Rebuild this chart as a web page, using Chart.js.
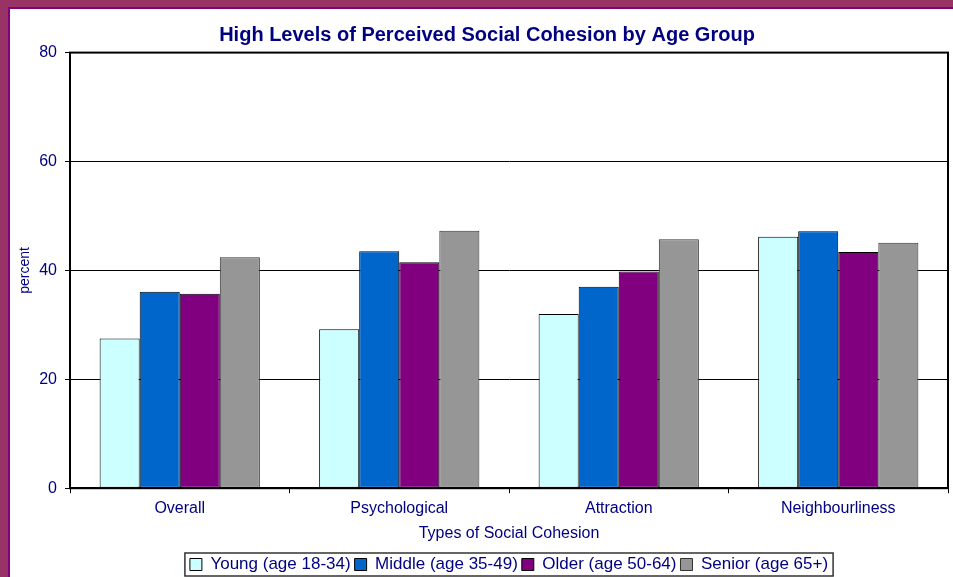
<!DOCTYPE html>
<html>
<head>
<meta charset="utf-8">
<script src="https://cdn.jsdelivr.net/npm/chart.js@4.4.0/dist/chart.umd.min.js"></script>
<style>
    html, body { margin: 0; padding: 0; }
    body { width: 953px; height: 577px; background: #993366; overflow: hidden; position: relative; }
    #frame { position: absolute; left: 8px; top: 7px; width: 945px; height: 570px; border-left: 2px solid #800080; border-top: 2px solid #800080; background: #fff; box-sizing: border-box; }
    #wrap { width: 943px; height: 568px; }
</style>
</head>
<body>
<div id="frame"><div id="wrap"><canvas id="chart"></canvas></div></div>
<script>
"use strict";

const categories = ["Overall", "Psychological", "Attraction", "Neighbourliness"];
const seriesNames = ["Young (age 18-34)", "Middle (age 35-49)", "Older (age 50-64)", "Senior (age 65+)"];
const young = [27.5, 29.2, 32.0, 46.2];
const middle = [36.1, 43.5, 37.0, 47.2];
const older = [35.7, 41.5, 39.8, 43.4];
const senior = [42.4, 47.3, 45.7, 45.1];
const yTicks = [0, 20, 40, 60, 80];

const colors = ["#ccffff", "#0066cc", "#800080", "#969696"];
const navy = "#000080";
const fontFamily = "'Liberation Sans', Arial, sans-serif";

// thick black box round the plot area
const frameBorder = {
    id: "frameBorder",
    afterDatasetsDraw(chart) {
        const { ctx, chartArea: a } = chart;
        ctx.save();
        ctx.strokeStyle = "#000";
        ctx.lineWidth = 2;
        ctx.strokeRect(a.left, a.top, a.right - a.left, a.bottom - a.top);
        ctx.restore();
    }
};

// thin box round the legend items
const legendBox = {
    id: "legendBox",
    afterDraw(chart) {
        const boxes = chart.legend.legendHitBoxes;
        if (!boxes || !boxes.length) return;
        const left = Math.min(...boxes.map((b) => b.left)) - 5;
        const right = Math.max(...boxes.map((b) => b.left + b.width)) + 5;
        const top = Math.min(...boxes.map((b) => b.top)) - 3;
        const bottom = Math.max(...boxes.map((b) => b.top + b.height)) + 3;
        const ctx = chart.ctx;
        ctx.save();
        ctx.strokeStyle = "#333";
        ctx.lineWidth = 1.5;
        ctx.strokeRect(left, top, right - left, bottom - top);
        ctx.restore();
    }
};

new Chart(document.getElementById("chart").getContext("2d"), {
    type: "bar",
    data: {
        labels: categories,
        datasets: [young, middle, older, senior].map((d, i) => ({
            label: seriesNames[i],
            data: d,
            backgroundColor: colors[i],
            borderColor: i === 3 ? "#333" : "#000",
            borderWidth: 1,
            borderSkipped: false,
            barPercentage: 1,
            categoryPercentage: 0.73
        }))
    },
    options: {
        responsive: true,
        maintainAspectRatio: false,
        animation: false,
        layout: { padding: { left: 16, right: 5, top: 0, bottom: -6 } },
        plugins: {
            title: {
                display: true,
                text: "High Levels of Perceived Social Cohesion by Age Group",
                color: navy,
                font: { family: fontFamily, size: 20, weight: "bold" },
                padding: { top: 14, bottom: 5.6 }
            },
            legend: {
                position: "bottom",
                fullSize: false,
                labels: {
                    color: navy,
                    font: { family: fontFamily, size: 17 },
                    boxWidth: 12,
                    boxHeight: 12,
                    padding: 4
                }
            },
            tooltip: { enabled: false }
        },
        scales: {
            x: {
                grid: { drawOnChartArea: false, drawTicks: true, tickLength: 5, color: "#000", offset: true },
                border: { color: "#000", width: 2 },
                ticks: { color: navy, font: { family: fontFamily, size: 16 }, padding: 6 },
                title: {
                    display: true,
                    text: "Types of Social Cohesion",
                    color: navy,
                    font: { family: fontFamily, size: 16 },
                    padding: { top: 0, bottom: 8.4 }
                }
            },
            y: {
                min: yTicks[0],
                max: yTicks[yTicks.length - 1],
                afterBuildTicks(scale) { scale.ticks = yTicks.map((v) => ({ value: v })); },
                afterFit(scale) { scale.width = 44; },
                grid: { color: "#000", lineWidth: 1, tickLength: 5 },
                border: { color: "#000", width: 2 },
                ticks: { color: navy, font: { family: fontFamily, size: 16 }, padding: 8 },
                title: {
                    display: true,
                    text: "percent",
                    color: navy,
                    font: { family: fontFamily, size: 14 },
                    padding: { top: -9, bottom: 0 }
                }
            }
        }
    },
    plugins: [frameBorder, legendBox]
});
</script>
</body>
</html>
